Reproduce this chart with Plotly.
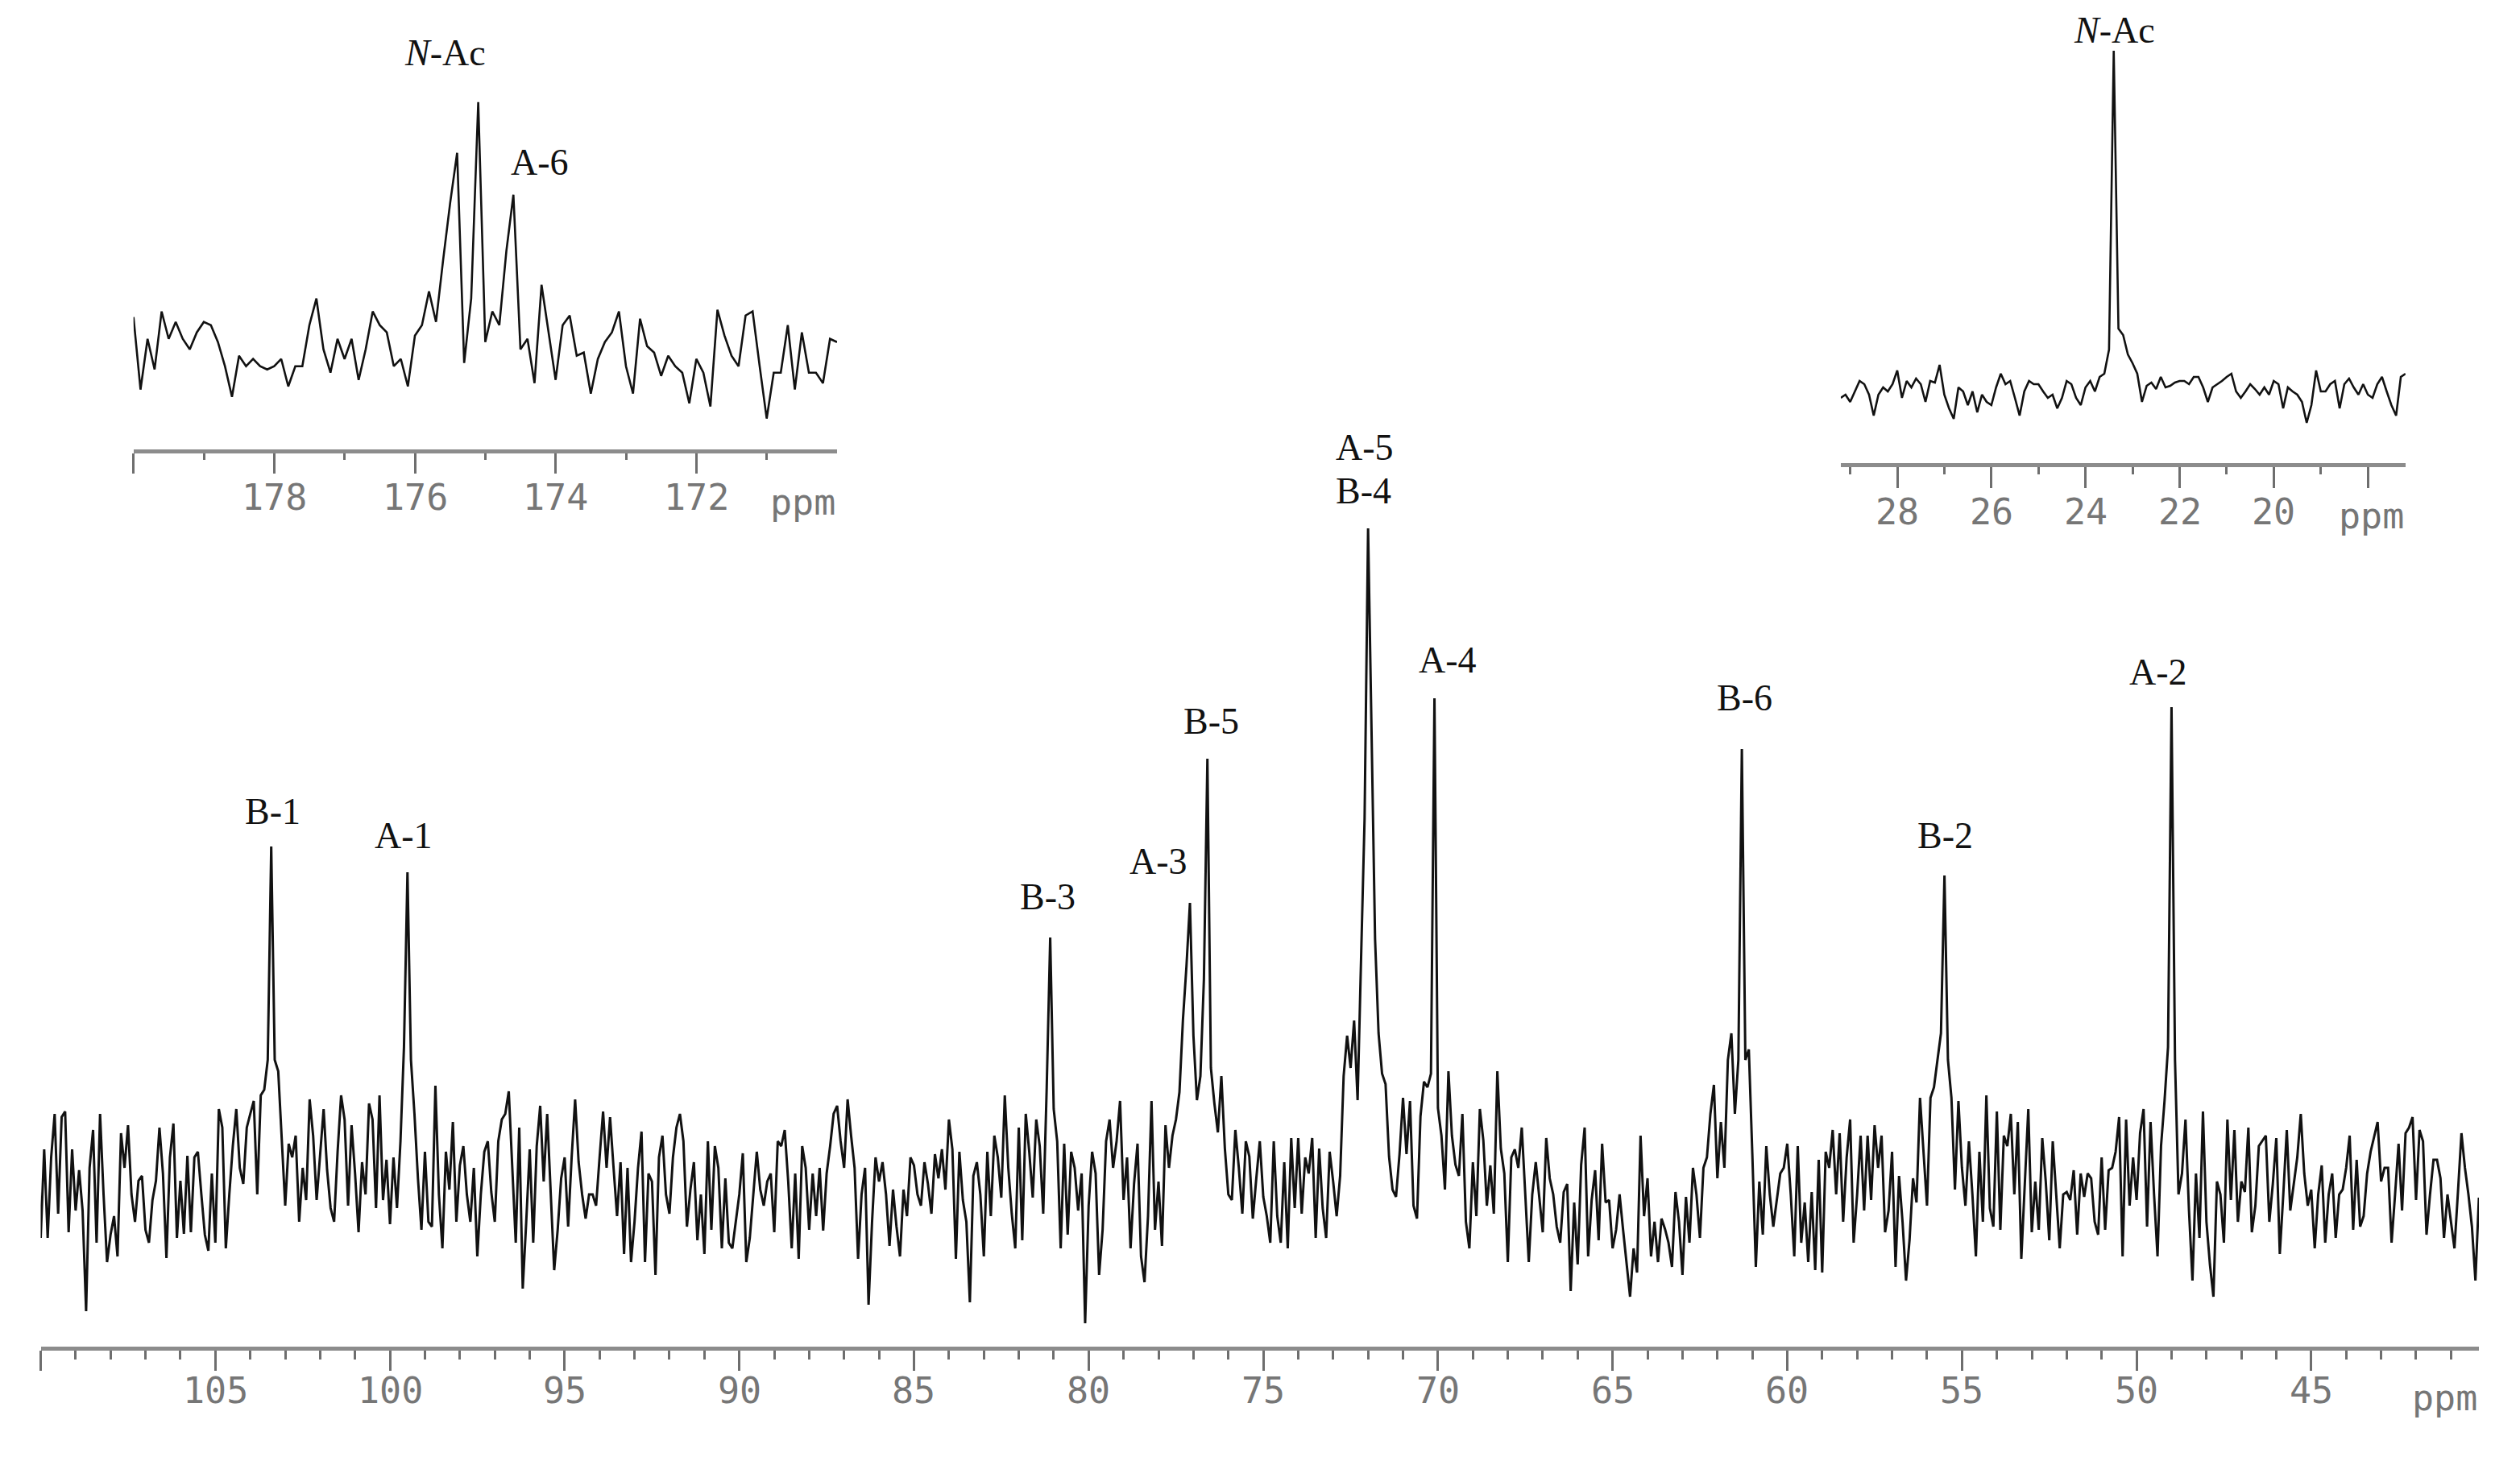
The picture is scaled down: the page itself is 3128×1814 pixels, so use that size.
import plotly.graph_objects as go

# ---------------- data ----------------
# Main 13C spectrum: intensity (arbitrary units, baseline = 0), 0.1 ppm sampling,
# given in segments, each starting at the listed chemical shift and going downfield->upfield.
MAIN_STEP = 0.1
MAIN_SEG_STARTS = [110.2, 98.2, 86.4, 74.7, 62.9, 51.4]
MAIN_SEG_1 = [
    16, 56, -71, 39, -71, 29, 83, -41, 79, 86,
    -64, 39, -37, 13, -37, -162, 16, 63, -77, 83,
    -17, -101, -67, -44, -94, 59, 16, 69, -17, -51,
    0, 6, -61, -77, -24, 0, 66, 9, -96, 29,
    71, -71, 0, -66, 31, -64, 29, 36, -17, -67,
    -87, 9, -77, 89, 66, -84, -17, 43, 89, 16,
    -4, 66, 83, 99, -17, 106, 113, 150, 415, 150,
    136, 56, -31, 46, 29, 56, -51, 16, -24, 101,
    56, -24, 29, 89, 13, -34, -51, 36, 106, 76,
    -31, 69, 9, -64, 23, -17, 96, 76, -34, 106,
    -24, 26, -54, 29, -34, 49, 166, 383, 150, 83,
    3, -61, 36, -51, -57, 118, -17, -84, 36, -11,
]
MAIN_SEG_2 = [
    73, -51, 19, 43, -17, -51, 16, -94, -17, 36,
    49, -14, -51, 49, 76, 83, 111, 16, -77, 66,
    -134, -51, 39, -77, 43, 93, -1, 83, -17, -111,
    -61, 3, 29, -57, 29, 101, 23, -17, -47, -17,
    -17, -31, 29, 86, 16, 79, 16, -44, 23, -91,
    16, -101, -51, 16, 61, -101, 9, -1, -117, 29,
    56, -17, -41, 29, 66, 83, 49, -57, -11, 23,
    -74, -17, -91, 49, -61, 43, 16, -84, 3, -77,
    -84, -51, -17, 34, -101, -71, -17, 36, -11, -31,
    -1, 9, -64, 49, 43, 63, -1, -84, 9, -97,
    43, 16, -61, 9, -44, 16, -62, 9, 43, 83,
    93, 49, 16, 101, 56, 16, -97, -17,
]
MAIN_SEG_3 = [
    16, -154, -51, 29, -1, 23, -17, -81, -11, -57,
    -94, -11, -44, 29, 19, -17, -31, 23, -4, -41,
    33, 3, 39, -11, 76, 39, -97, 36, -24, -51,
    -151, 6, 23, -17, -94, 36, -44, 56, 29, -21,
    106, 16, -41, -84, 66, -74, 83, 36, -21, 76,
    43, -41, 116, 302, 89, 49, -84, 46, -67, 36,
    16, -37, 9, -177, -31, 36, 9, -117, -61, 49,
    76, 16, 49, 99, -24, 29, -84, -4, 46, -94,
    -126, -44, 99, -61, -1, -81, 69, 16, 56, 76,
    110, 200, 266, 345, 180, 100, 130, 250, 524, 140,
    96, 60, 130, 40, -17, -24, 63, 16, -41, 49,
    30, -47, 3, 49, -20, -44, -77,
]
MAIN_SEG_4 = [
    49, -44, -77, 23, -84, 53, -34, 53, -41, 29,
    9, 53, -71, 40, -34, -71, 36, -1, -44, 6,
    130, 180, 140, 199, 100, 277, 450, 810, 560, 300,
    183, 133, 120, 30, -11, -20, 33, 103, 33, 99,
    -31, -47, 80, 123, 116, 133, 599, 90, 56, -11,
    136, 56, 20, 6, 83, -51, -84, 23, -44, 89,
    50, -31, 19, -41, 136, 40, 9, -101, 29, 39,
    16, 66, -17, -101, -17, 23, -20, -64, 53, 3,
    -17, -57, -77, -14, -4, -137, -27, -104, 20, 66,
    -94, -24, 13, -74, 46, -27, -24, -84, -61, -17,
    -61, -100, -144, -84, -114, 56, -44, 3, -94, -51,
    -101, -47, -60, -77, -107, -14, -51, -117,
]
MAIN_SEG_5 = [
    -20, -77, 16, -17, -71, 16, 29, 83, 119, 3,
    73, 16, 150, 183, 83, 150, 536, 150, 163, 33,
    -107, -1, -67, 43, -17, -57, -24, 9, 16, 46,
    -17, -94, 43, -77, -27, -101, -14, -111, 26, -114,
    36, 16, 63, -17, 59, -51, 29, 76, -77, -17,
    56, -37, 56, -24, 69, 16, 56, -64, -37, 36,
    -107, 6, -51, -124, -74, 3, -27, 103, 36, -31,
    103, 116, 150, 183, 379, 150, 103, -11, 99, 16,
    -31, 49, -17, -94, 36, -51, 106, -34, -57, 86,
    -61, 56, 43, 83, -17, 73, -97, 3, 89, -64,
    -1, -61, 53, -1, -74, 49, -17, -84, -17, -14,
    -24, 13, -67, 9, -20,
]
MAIN_SEG_6 = [
    9, 3, -51, -67, 29, -61, 13, 16, 36, 79,
    -94, 76, -31, 29, -24, 59, 89, -57, 73, -17,
    -94, 43, 99, 166, 588, 150, -17, 9, 76, -37,
    -124, 9, -71, 86, -51, -104, -144, -1, -17, -77,
    76, -24, 63, -51, -1, -14, 66, -64, -31, 43,
    49, 56, -51, -4, 53, -91, -17, 63, -37, -1,
    29, 83, 9, -31, -11, -84, -17, 19, -77, -17,
    9, -71, -17, -11, 16, 56, -61, 26, -57, -44,
    9, 36, 56, 73, -1, 16, 16, -77, -17, 46,
    -37, 59, 66, 79, -24, 63, 49, -67, -17, 26,
    26, 3, -71, -17, -51, -84, -14, 59, 16, -17,
    -57, -124, -21,
]
MAIN_SEGMENTS = [MAIN_SEG_1, MAIN_SEG_2, MAIN_SEG_3, MAIN_SEG_4, MAIN_SEG_5, MAIN_SEG_6]

# Left inset (carbonyl region, 180-170 ppm)
LEFT_START = 180.0
LEFT_STEP = 0.1
LEFT_I = [
    44, -46, 17, -21, 51, 17, 38, 17, 4, 25,
    38, 34, 13, -17, -55, -4, -17, -8, -17, -21,
    -17, -8, -42, -17, -17, 34, 67, 4, -25, 17,
    -8, 17, -34, 4, 51, 34, 25, -17, -8, -42,
    21, 34, 76, 38, 114, 185, 248, -13, 67, 311,
    13, 51, 34, 126, 196, 4, 17, -38, 84, 25,
    -34, 34, 46, -4, 0, -51, -8, 13, 25, 51,
    -17, -51, 42, 8, 0, -29, -4, -17, -25, -63,
    -8, -25, -67, 53, 21, -4, -17, 46, 51, -17,
    -82, -25, -25, 34, -46, 25, -25, -25, -38, 17,
    13,
]

# Right inset (methyl region, 29.2-17.2 ppm)
RIGHT_START = 29.2
RIGHT_STEP = 0.1
RIGHT_I = [
    -4, 0, -9, 4, 17, 13, 0, -26, 0, 9,
    4, 13, 30, -4, 17, 9, 20, 13, -9, 17,
    15, 37, 0, -17, -30, 9, 4, -13, 4, -22,
    0, -9, -13, 9, 26, 13, 17, -4, -26, 4,
    17, 13, 13, 4, -4, 0, -17, -4, 17, 13,
    -4, -13, 9, 17, 4, 22, 26, 56, 427, 82,
    74, 50, 39, 26, -9, 11, 15, 7, 22, 9,
    11, 15, 17, 17, 13, 22, 22, 9, -9, 9,
    13, 17, 22, 26, 4, -4, 4, 13, 7, 0,
    9, 0, 17, 13, -17, 9, 4, 0, -9, -35,
    -13, 30, 4, 4, 13, 17, -17, 13, 20, 9,
    0, 13, 0, -4, 13, 22, 4, -13, -26, 22,
    26,
]

# Peak assignments
MAIN_LABEL_TEXT = ["B-1", "A-1", "B-3", "A-3", "B-5", "A-5", "B-4", "A-4", "B-6", "B-2", "A-2"]
MAIN_LABEL_PPM = [103.36, 99.62, 81.17, 78.0, 76.5, 72.09, 72.14, 69.71, 61.23, 55.48, 49.37]
MAIN_LABEL_I = [459, 429, 353, 397, 571, 911, 857, 647, 600, 429, 632]

LEFT_LABEL_TEXT = ["<i>N</i>-Ac", "A-6"]
LEFT_LABEL_PPM = [175.57, 174.22]
LEFT_LABEL_I = [372, 236]

RIGHT_LABEL_TEXT = ["<i>N</i>-Ac"]
RIGHT_LABEL_PPM = [23.39]
RIGHT_LABEL_I = [453]

MAIN_TICKS = [110, 105, 100, 95, 90, 85, 80, 75, 70, 65, 60, 55, 50, 45]
MAIN_TICK_TEXT = ["", "105", "100", "95", "90", "85", "80", "75", "70", "65", "60", "55", "50", "45"]
LEFT_TICKS = [180, 178, 176, 174, 172]
LEFT_TICK_TEXT = ["", "178", "176", "174", "172"]
RIGHT_TICKS = [28, 26, 24, 22, 20, 18]
RIGHT_TICK_TEXT = ["28", "26", "24", "22", "20", ""]

# ---------------- build traces ----------------
def seg_axis(start, step, n):
    return [round(start - step * i, 4) for i in range(n)]

main_x, main_y = [], []
for start, seg in zip(MAIN_SEG_STARTS, MAIN_SEGMENTS):
    main_x += seg_axis(start, MAIN_STEP, len(seg))
    main_y += seg

left_x = seg_axis(LEFT_START, LEFT_STEP, len(LEFT_I))
right_x = seg_axis(RIGHT_START, RIGHT_STEP, len(RIGHT_I))

W, H = 3128, 1814
TICKFONT = dict(family="DejaVu Sans Mono", size=45, color="#767676")
LABELFONT = dict(family="Liberation Serif", size=46, color="#111111")
AXCOL = "#8c8c8c"

fig = go.Figure()
fig.add_trace(go.Scatter(x=main_x, y=main_y, mode="lines", line=dict(color="#111111", width=3.0),
                         xaxis="x", yaxis="y", hoverinfo="skip", showlegend=False))
fig.add_trace(go.Scatter(x=left_x, y=LEFT_I, mode="lines", line=dict(color="#111111", width=2.6),
                         xaxis="x2", yaxis="y2", hoverinfo="skip", showlegend=False))
fig.add_trace(go.Scatter(x=right_x, y=RIGHT_I, mode="lines", line=dict(color="#111111", width=2.6),
                         xaxis="x3", yaxis="y3", hoverinfo="skip", showlegend=False))


def xaxis_cfg(domain, rng, major, minor_vals, anchor, major_len, minor_len):
    return dict(
        domain=domain, range=rng, anchor=anchor,
        showline=True, linecolor=AXCOL, linewidth=5,
        showgrid=False, zeroline=False,
        ticks="outside", ticklen=major_len, tickwidth=3, tickcolor="#6e6e6e",
        tickmode="array", tickvals=major, showticklabels=False,
        minor=dict(tickmode="array", tickvals=minor_vals, ticks="outside",
                   ticklen=minor_len, tickwidth=3, tickcolor="#6e6e6e", showgrid=False),
        fixedrange=True,
    )


main_minor = [v for v in range(41, 111) if v % 5 != 0]
left_minor = [179, 177, 175, 173, 171]
right_minor = [29, 27, 25, 23, 21, 19]

fig.update_layout(
    width=W, height=H,
    margin=dict(l=0, r=0, t=0, b=0),
    paper_bgcolor="white", plot_bgcolor="rgba(0,0,0,0)",
    showlegend=False,
    xaxis=xaxis_cfg([50.5 / W, 3077 / W], [110, 40.2], MAIN_TICKS, main_minor, "y", 25, 11),
    yaxis=dict(domain=[(H - 1672) / H, 1.0], range=[-206, 1466], visible=False, fixedrange=True),
    xaxis2=xaxis_cfg([165.7 / W, 1039 / W], [180, 170], LEFT_TICKS, left_minor, "y2", 25, 8),
    yaxis2=dict(domain=[(H - 557.7) / H, 1.0], range=[-120, 437.7], visible=False, fixedrange=True),
    xaxis3=xaxis_cfg([2284.9 / W, 2985.9 / W], [29.2, 17.2], RIGHT_TICKS, right_minor, "y3", 26, 9),
    yaxis3=dict(domain=[(H - 574.6) / H, 1.0], range=[-84.6, 490], visible=False, fixedrange=True),
)

annotations = []
for t, px, py in zip(MAIN_LABEL_TEXT, MAIN_LABEL_PPM, MAIN_LABEL_I):
    annotations.append(dict(x=px, y=py, xref="x", yref="y", text=t, showarrow=False,
                            font=LABELFONT, xanchor="center", yanchor="middle"))
for t, px, py in zip(LEFT_LABEL_TEXT, LEFT_LABEL_PPM, LEFT_LABEL_I):
    annotations.append(dict(x=px, y=py, xref="x2", yref="y2", text=t, showarrow=False,
                            font=LABELFONT, xanchor="center", yanchor="middle"))
for t, px, py in zip(RIGHT_LABEL_TEXT, RIGHT_LABEL_PPM, RIGHT_LABEL_I):
    annotations.append(dict(x=px, y=py, xref="x3", yref="y3", text=t, showarrow=False,
                            font=LABELFONT, xanchor="center", yanchor="middle"))

# tick labels (placed as text under each major tick)
for ref, vals, texts, ypix in (("x", MAIN_TICKS, MAIN_TICK_TEXT, 1726),
                               ("x2", LEFT_TICKS, LEFT_TICK_TEXT, 617),
                               ("x3", RIGHT_TICKS, RIGHT_TICK_TEXT, 636)):
    for v, t in zip(vals, texts):
        if t:
            annotations.append(dict(x=v, y=(H - ypix) / H, xref=ref, yref="paper", text=t,
                                    showarrow=False, font=TICKFONT, xanchor="center", yanchor="middle"))

# "ppm" unit labels at the right end of each axis
annotations.append(dict(x=40.2, y=(H - 1735) / H, xref="x", yref="paper", text="ppm", showarrow=False,
                        font=TICKFONT, xanchor="right", yanchor="middle"))
annotations.append(dict(x=170.0, y=(H - 623) / H, xref="x2", yref="paper", text="ppm", showarrow=False,
                        font=TICKFONT, xanchor="right", yanchor="middle"))
annotations.append(dict(x=17.2, y=(H - 640) / H, xref="x3", yref="paper", text="ppm", showarrow=False,
                        font=TICKFONT, xanchor="right", yanchor="middle"))
fig.update_layout(annotations=annotations)

fig.write_html("out.html", config={"displayModeBar": False, "staticPlot": True},
               post_script="document.body.style.margin='0px';document.body.style.overflow='hidden';")
